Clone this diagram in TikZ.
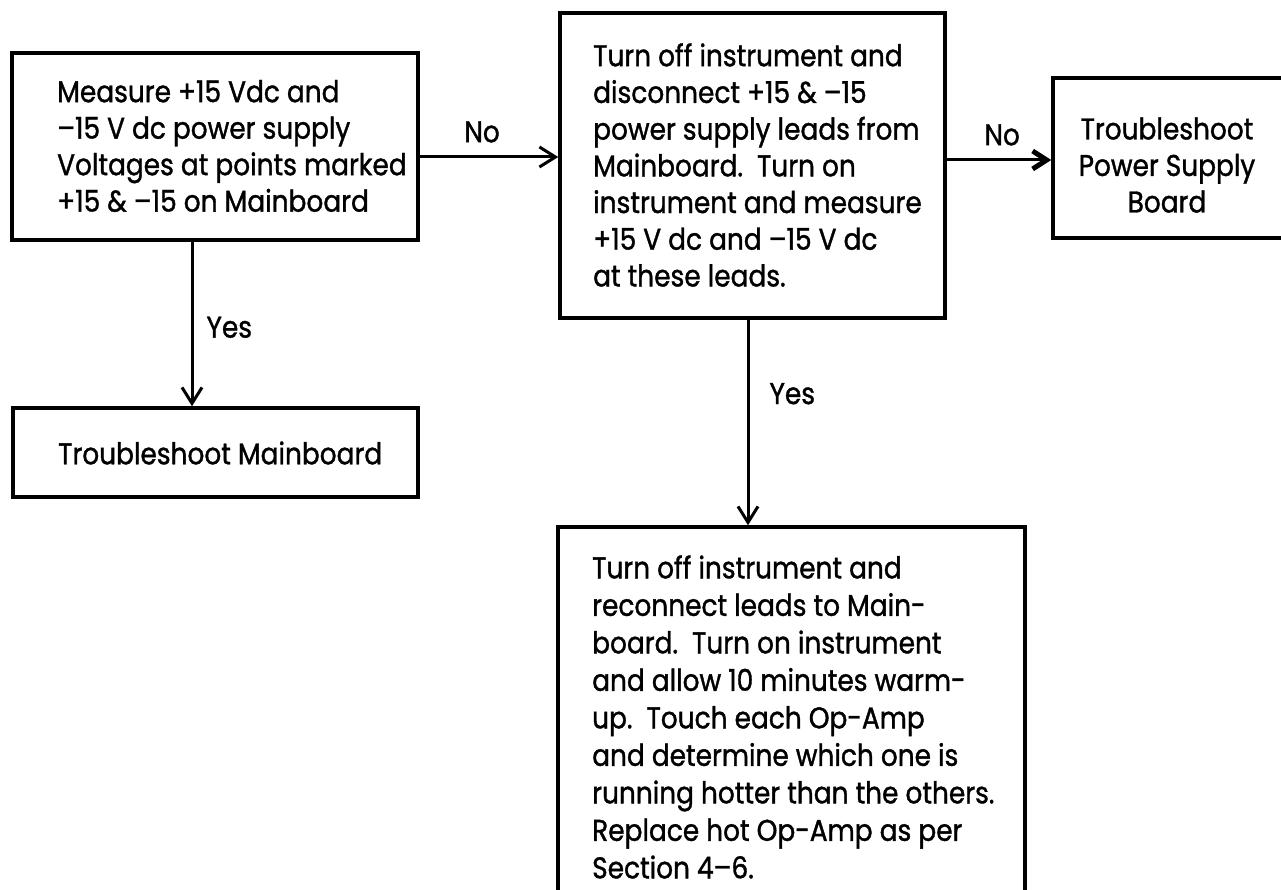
\documentclass[tikz,border=0pt]{standalone}
\usepackage{fontspec}
\setmainfont{Poppins}[FakeStretch=0.88,FakeBold=1.2]
\usetikzlibrary{arrows.meta}
\begin{document}
\begin{tikzpicture}[x=1pt,y=-1pt,
  box/.style={draw, line width=3.5pt, inner sep=0pt},
  txt/.style={align=left, inner sep=0pt, font=\fontsize{30}{36.5}\selectfont},
  lab/.style={inner sep=0pt, font=\fontsize{30}{36}\selectfont},
  arr/.style={line width=3pt, -{Straight Barb[length=16pt,width=20pt]}},
  boldarr/.style={line width=3pt, -{Straight Barb[length=14pt,width=18pt,line width=5pt]}}]

% page
\fill[white] (0,0) rectangle (1281,890);
\useasboundingbox (0,0) rectangle (1281,890);
\clip (0,0) rectangle (1281,890);

% boxes
\node[box, minimum width=406pt, minimum height=187pt] (A) at (215,146.5) {};
\node[box, minimum width=405pt, minimum height=89pt]  (B) at (215.5,452.5) {};
\node[box, minimum width=385pt, minimum height=305pt] (C) at (752.5,165.5) {};
\node[box, minimum width=242pt, minimum height=160pt] (D) at (1174,158) {};
\node[box, minimum width=467pt, minimum height=368pt] (E) at (791.5,711) {};

% box texts
\node[txt, anchor=west] (At) at (57,146)
  {Measure +15 Vdc and\\ –15 V dc power supply\\ Voltages at points marked\\ +15 \& –15 on Mainboard};
\node[txt, anchor=west] (Bt) at (58,453) {Troubleshoot Mainboard};
\node[txt, anchor=west, font=\fontsize{30}{36.7}\selectfont] (Ct) at (593,165)
  {Turn off instrument and\\ disconnect +15 \& –15\\ power supply leads from\\ Mainboard.\ \ Turn on\\
   instrument and measure\\ +15 V dc and –15 V dc\\ at these leads.};
\node[txt, align=center] (Dt) at (1167,165) {Troubleshoot\\ Power Supply\\ Board};
\node[txt, anchor=west, font=\fontsize{30}{37.5}\selectfont] (Et) at (592,717)
  {Turn off instrument and\\ reconnect leads to Main-\\ board.\ \ Turn on instrument\\
   and allow 10 minutes warm-\\ up.\ \ Touch each Op-Amp\\ and determine which one is\\
   running hotter than the others.\\ Replace hot Op-Amp as per\\ Section 4–6.};

% connectors
\draw[arr] ([yshift=-10.5pt]A.east) -- ([yshift=-10.5pt]A.east -| C.west)
  node[lab, pos=0.45, above=13pt] (no1) {No};
\draw[boldarr] ([yshift=5.5pt]C.east) -- ([yshift=5.5pt]C.east -| D.west)
  node[lab, pos=0.53, above=13pt] (no2) {No};
\draw[arr] ([xshift=-23pt]A.south) -- ([xshift=-23pt]A.south |- B.north)
  node[lab, pos=0.52, right=13pt] (yes1) {Yes};
\draw[arr] ([xshift=-4.5pt]C.south) -- ([xshift=-4.5pt]C.south |- E.north)
  node[lab, pos=0.36, right=20pt] (yes2) {Yes};
\end{tikzpicture}
\end{document}
